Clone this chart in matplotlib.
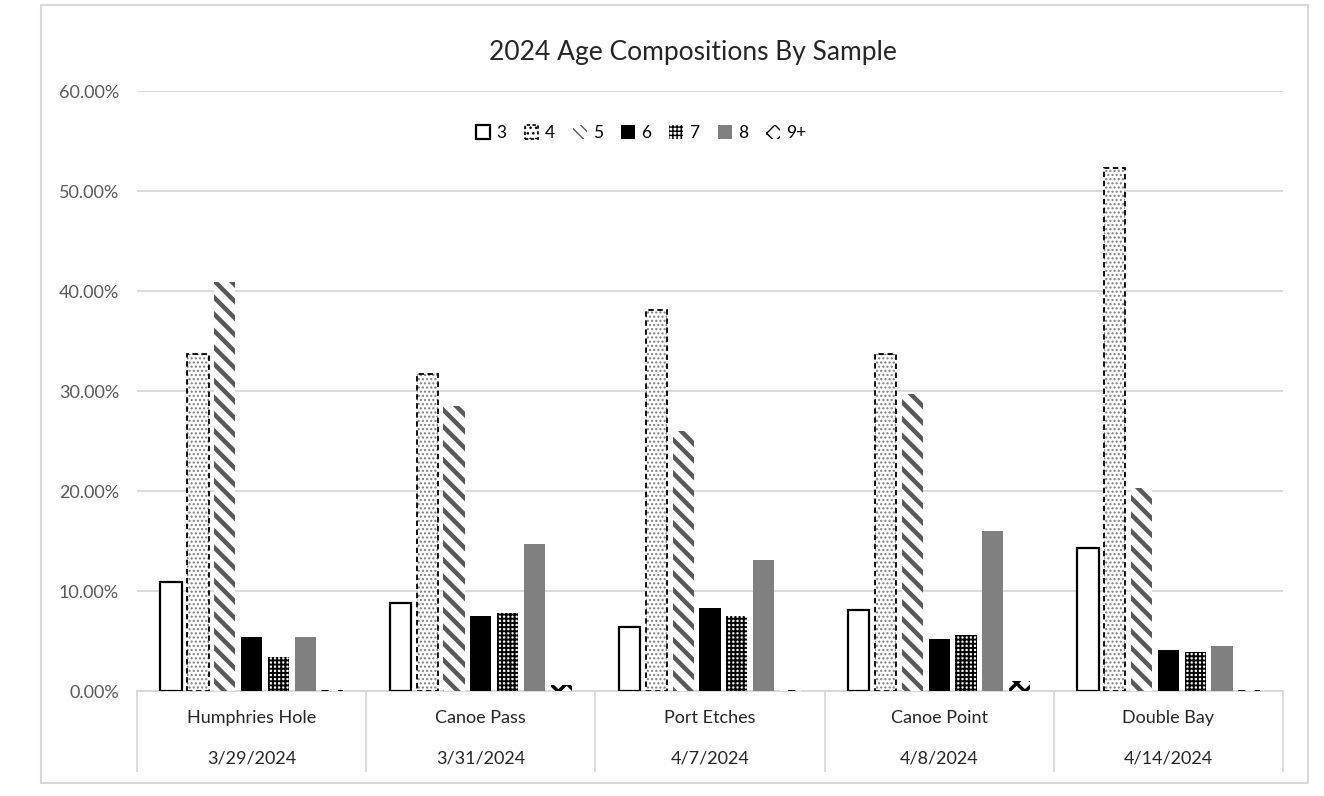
import numpy as np
import matplotlib
matplotlib.use('Agg')
import matplotlib.pyplot as plt
from matplotlib.patches import Rectangle, Patch

plt.rcParams['font.family'] = ['Lato', 'DejaVu Sans']

# Sample sites and dates (two-level category axis)
sites = ['Humphries Hole', 'Canoe Pass', 'Port Etches', 'Canoe Point', 'Double Bay']
dates = ['3/29/2024', '3/31/2024', '4/7/2024', '4/8/2024', '4/14/2024']
ages = ['3', '4', '5', '6', '7', '8', '9+']

# Proportion at each age per sample (percent)
age3 = [10.9, 8.8, 6.4, 8.1, 14.3]
age4 = [33.7, 31.7, 38.1, 33.7, 52.3]
age5 = [40.9, 28.5, 26.0, 29.7, 20.3]
age6 = [5.4, 7.5, 8.3, 5.2, 4.1]
age7 = [3.4, 7.8, 7.5, 5.6, 3.9]
age8 = [5.4, 14.7, 13.1, 16.0, 4.5]
age9 = [0.1, 0.6, 0.1, 1.0, 0.1]
series = [age3, age4, age5, age6, age7, age8, age9]

# Excel-like black & white pattern styles for each age
styles = [
    dict(facecolor='white', edgecolor='black', linewidth=1.6),
    dict(facecolor='white', edgecolor='#7f7f7f', hatch='....', linewidth=0, hlw=1.0,
         outline=dict(edgecolor='black', linestyle=(0, (3, 2)), linewidth=1.3)),
    dict(facecolor='white', edgecolor='#595959', hatch='\\\\', linewidth=0, hlw=3.2),
    dict(facecolor='black', edgecolor='black', linewidth=0),
    dict(facecolor='white', edgecolor='black', hatch='++++', linewidth=0, hlw=1.4),
    dict(facecolor='#808080', edgecolor='#808080', linewidth=0),
    dict(facecolor='white', edgecolor='black', hatch='xx', linewidth=0, hlw=2.5),
]

fig = plt.figure(figsize=(13.24, 7.96), dpi=100)
ax = fig.add_axes([137/1324, 105/796, 1146/1324, 600/796])

x = np.arange(len(sites)) + 0.5
pitch = 0.117
width = 0.093
for i, (vals, st) in enumerate(zip(series, styles)):
    st = dict(st)
    hlw = st.pop('hlw', 1.0)
    outline = st.pop('outline', None)
    with plt.rc_context({'hatch.linewidth': hlw}):
        ax.bar(x + (i - 3) * pitch, vals, width, zorder=3, **st)
    if outline:
        ax.bar(x + (i - 3) * pitch, vals, width, fill=False, zorder=4, **outline)

ax.set_xlim(0, len(sites))
ax.set_ylim(0, 60)
ax.set_yticks(np.arange(0, 61, 10))
ax.set_yticklabels(['{:.2f}%'.format(v) for v in np.arange(0, 61, 10)])
ax.tick_params(axis='y', length=0, labelsize=13, labelcolor='#595959', pad=13)
ax.tick_params(axis='x', length=0, labelbottom=False)
ax.grid(axis='y', color='#d9d9d9', linewidth=1.3, zorder=0)
for s in ['top', 'right', 'left']:
    ax.spines[s].set_visible(False)
ax.spines['bottom'].set_color('#d9d9d9')
ax.spines['bottom'].set_linewidth(1.3)

# Two-level category labels with separators
trans = ax.get_xaxis_transform()
for xi, site, date in zip(x, sites, dates):
    ax.text(xi, -0.045, site, transform=trans, ha='center', va='center',
            fontsize=13, color='#262626')
    ax.text(xi, -0.112, date, transform=trans, ha='center', va='center',
            fontsize=13, color='#262626')
for b in range(len(sites) + 1):
    ax.plot([b, b], [0, -80/600], transform=trans, color='#d9d9d9',
            linewidth=1.3, clip_on=False)

ax.set_title('2024 Age Compositions By Sample', fontsize=19, color='#262626',
             pad=22, x=0.485)

# Legend handles with the same patterns
leg_handles = [
    Patch(facecolor='white', edgecolor='black', linewidth=1.6),
    Patch(facecolor='white', edgecolor='black', hatch='...', linestyle=(0, (2, 1.5)), linewidth=1.2),
    Patch(facecolor='white', edgecolor='#595959', hatch='\\\\\\', linewidth=0),
    Patch(facecolor='black', edgecolor='black', linewidth=0),
    Patch(facecolor='white', edgecolor='black', hatch='++++', linewidth=0),
    Patch(facecolor='#808080', edgecolor='#808080', linewidth=0),
    Patch(facecolor='white', edgecolor='black', hatch='xx', linewidth=0),
]
ax.legend(handles=leg_handles, labels=ages, loc='center', bbox_to_anchor=(0.44, 0.93),
          ncol=7, frameon=False, fontsize=12.5, handlelength=0.8, handleheight=0.8,
          handletextpad=0.35, columnspacing=1.05)

# Outer chart border
fig.patches.append(Rectangle((41/1324, 13/796), 1267/1324, 778/796, transform=fig.transFigure,
                             fill=False, edgecolor='#d9d9d9', linewidth=1.5))

fig.savefig('out.png', dpi=100)
